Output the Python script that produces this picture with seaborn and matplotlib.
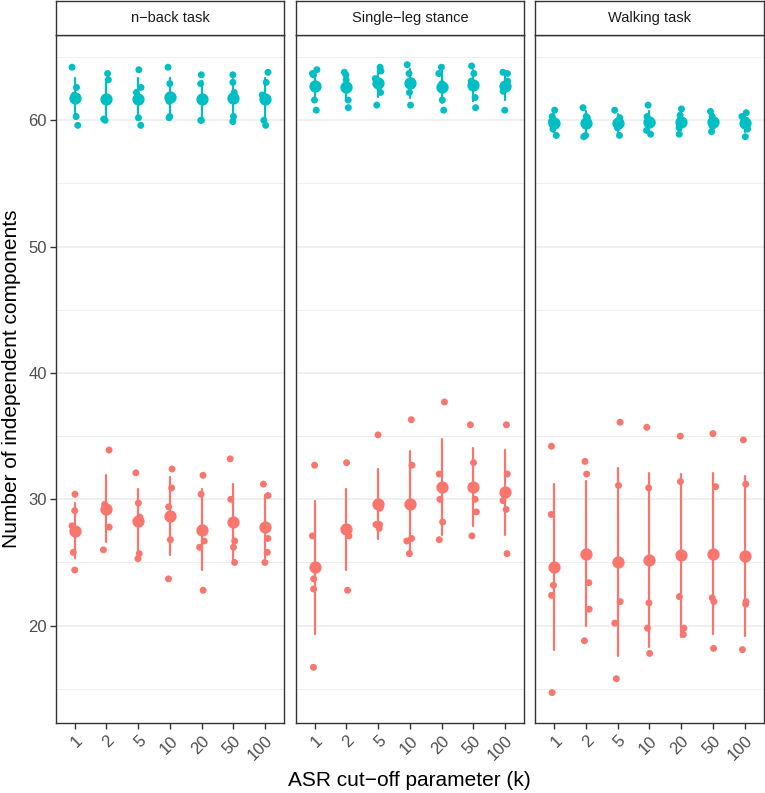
import numpy as np
import pandas as pd
import matplotlib
matplotlib.use("Agg")
import matplotlib.pyplot as plt
import seaborn as sns
from matplotlib.ticker import FixedLocator

# ---------------- data ----------------
k_labels = ["1", "2", "5", "10", "20", "50", "100"]
tasks = ["n\u2212back task", "Single\u2212leg stance", "Walking task"]
groups = ["high", "low"]

nback_high = [[64.2, 62.6, 62.0, 60.3, 59.6], [63.7, 63.2, 61.6, 60.1, 60.0],
              [64.0, 62.6, 62.2, 60.2, 59.6], [64.2, 62.9, 61.5, 60.3, 60.2],
              [63.6, 62.9, 61.8, 60.0, 60.0], [63.6, 63.0, 62.2, 60.3, 59.9],
              [63.8, 63.0, 62.0, 60.0, 59.6]]
nback_low = [[30.4, 29.1, 27.9, 25.8, 24.4], [33.9, 29.6, 29.0, 27.8, 26.0],
             [32.1, 29.7, 28.6, 25.7, 25.3], [32.4, 30.9, 29.4, 26.8, 23.7],
             [31.9, 30.4, 26.7, 26.2, 22.8], [33.2, 30.0, 26.7, 26.2, 25.0],
             [31.2, 30.3, 26.9, 25.8, 25.0]]
single_high = [[64.0, 63.7, 63.6, 61.6, 60.8], [63.8, 63.6, 63.2, 61.6, 61.0],
               [64.2, 63.9, 63.3, 62.2, 61.2], [64.4, 63.7, 63.1, 62.2, 61.2],
               [64.2, 63.7, 62.9, 61.6, 60.8], [64.3, 63.7, 63.1, 61.8, 61.0],
               [63.8, 63.7, 63.1, 62.3, 60.8]]
single_low = [[32.7, 27.1, 23.7, 22.9, 16.7], [32.9, 27.8, 27.6, 27.1, 22.8],
              [35.1, 29.3, 28.0, 28.0, 27.7], [36.3, 32.7, 26.9, 26.7, 25.7],
              [37.7, 32.0, 30.0, 28.2, 26.8], [35.9, 32.9, 30.0, 29.0, 27.1],
              [35.9, 32.0, 29.9, 29.2, 25.7]]
walk_high = [[60.8, 60.3, 59.9, 59.3, 58.8], [61.0, 60.3, 60.2, 58.8, 58.7],
             [60.8, 60.2, 59.7, 59.4, 58.8], [61.2, 60.3, 59.8, 59.2, 58.9],
             [60.9, 60.4, 59.9, 59.4, 58.9], [60.7, 60.3, 59.9, 59.5, 59.1],
             [60.6, 60.3, 60.0, 59.3, 58.7]]
walk_low = [[34.2, 28.8, 23.2, 22.4, 14.7], [33.0, 32.0, 23.4, 21.3, 18.8],
            [36.1, 31.1, 21.9, 20.2, 15.8], [35.7, 30.9, 21.8, 19.8, 17.8],
            [35.0, 31.4, 22.3, 19.8, 19.3], [35.2, 31.0, 22.2, 21.9, 18.2],
            [34.7, 31.2, 21.9, 21.7, 18.1]]

y_major = [20, 30, 40, 50, 60]
y_minor = [15, 25, 35, 45, 55, 65]

highs = [nback_high, single_high, walk_high]
lows = [nback_low, single_low, walk_low]

rows = []
for task, hi, lo in zip(tasks, highs, lows):
    for k, h, l in zip(k_labels, hi, lo):
        for v in h:
            rows.append((task, k, "high", v))
        for v in l:
            rows.append((task, k, "low", v))
df = pd.DataFrame(rows, columns=["task", "k", "group", "value"])

# ---------------- style ----------------
sns.set_theme(style="white")
plt.rcParams["font.family"] = ["Liberation Sans", "DejaVu Sans"]
pal = {"high": "#00BFC4", "low": "#F8766D"}

W, H = 765, 793
fig = plt.figure(figsize=(W / 100, H / 100), dpi=100)
fig.patch.set_facecolor("white")

lefts = [55.7, 295.7, 535.3]
pw = 228.4
ptop, pbot = 35.0, 723.3
strip_top = 1.0

np.random.seed(7)
for i, task in enumerate(tasks):
    L = lefts[i]
    ax = fig.add_axes([L / W, (H - pbot) / H, pw / W, (pbot - ptop) / H])
    sub = df[df["task"] == task]
    sns.stripplot(data=sub, x="k", y="value", hue="group", order=k_labels,
                  hue_order=groups, palette=pal, jitter=0.1, size=5.0,
                  linewidth=0, legend=False, ax=ax, zorder=3)
    sns.pointplot(data=sub, x="k", y="value", hue="group", order=k_labels,
                  hue_order=groups, palette=pal, errorbar=("se", 2),
                  markers="o", linestyle="none", markersize=6.8,
                  err_kws={"linewidth": 1.6}, dodge=False, legend=False, ax=ax)
    for c in ax.collections:
        c.set_zorder(3)
    ax.set_xlim(-0.6, 6.6)
    ax.set_ylim(12.27, 66.75)
    ax.yaxis.set_major_locator(FixedLocator(y_major))
    ax.yaxis.set_minor_locator(FixedLocator(y_minor))
    ax.grid(False)
    ax.grid(which="major", axis="y", color="#EBEBEB", linewidth=1.1)
    ax.grid(which="minor", axis="y", color="#EBEBEB", linewidth=0.6)
    ax.set_axisbelow(True)
    ax.set_facecolor("white")
    for s in ax.spines.values():
        s.set_color("#333333")
        s.set_linewidth(1.0)
        s.set_visible(True)
    ax.set_xticks(range(len(k_labels)))
    ax.set_xticklabels(k_labels, rotation=45, ha="right", va="top",
                       rotation_mode="anchor")
    ax.tick_params(axis="x", which="major", direction="out", length=4,
                   width=1.0, color="#333333", labelcolor="#4D4D4D",
                   labelsize=12, pad=3, bottom=True)
    if i == 0:
        ax.tick_params(axis="y", which="major", direction="out", length=4,
                       width=1.0, color="#333333", labelcolor="#4D4D4D",
                       labelsize=12, pad=2.5, left=True)
    else:
        ax.tick_params(axis="y", which="major", left=False, labelleft=False)
    ax.tick_params(axis="y", which="minor", left=False)
    ax.set_xlabel("")
    ax.set_ylabel("")

    sax = fig.add_axes([L / W, (H - ptop) / H, pw / W, (ptop - strip_top) / H])
    sax.set_xticks([])
    sax.set_yticks([])
    sax.set_facecolor("white")
    for s in sax.spines.values():
        s.set_color("#333333")
        s.set_linewidth(1.0)
        s.set_visible(True)
    sax.text(0.5, 0.5, task, ha="center", va="center", fontsize=10.5,
             color="#1A1A1A", transform=sax.transAxes)

fig.text(409.5 / W, 1 - 780 / H, "ASR cut\u2212off parameter (k)", ha="center",
         va="center", fontsize=15, color="black")
fig.text(12 / W, 1 - 379 / H, "Number of independent components", ha="center",
         va="center", rotation=90, fontsize=15, color="black")

fig.savefig("out.png", dpi=100, facecolor="white")
